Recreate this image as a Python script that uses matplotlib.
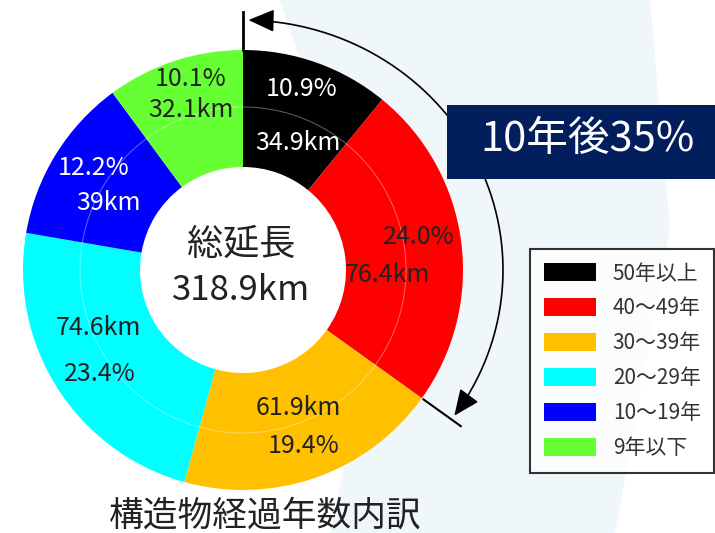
import numpy as np
import matplotlib.pyplot as plt
from matplotlib.patches import Patch, Polygon, Circle, Rectangle, FancyArrowPatch
from matplotlib.path import Path

plt.rcParams['font.family'] = ['Noto Sans CJK JP', 'DejaVu Sans']

# data
categories = ['50年以上', '40～49年', '30～39年', '20～29年', '10～19年', '9年以下']
shares = [10.9, 24.0, 19.4, 23.4, 12.2, 10.1]
lengths = ['34.9km', '76.4km', '61.9km', '74.6km', '39km', '32.1km']
colors = ['#000000', '#ff0000', '#ffc000', '#00ffff', '#0000ff', '#66ff33']
total_label = '318.9km'
center_title = '総延長'
callout = '10年後35%'
title = '構造物経過年数内訳'

# label placement (pixel coords, y down): (percent pos, km pos)
label_pos = [((302, 89), (298, 143)), ((419, 237), (387, 275)),
             ((304, 446), (298, 408)), ((100, 374), (98, 328)),
             ((94, 168), (109, 203)), ((191, 79), (191, 110))]
text_colors = ['white', '#222222', '#222222', '#222222', 'white', '#222222']

W, H = 715, 533
fig = plt.figure(figsize=(W / 100, H / 100), dpi=100)
ax = fig.add_axes([0, 0, 1, 1])


def Y(y):
    return H - y


cx, cy = 243, Y(270)
R, r_in = 220, 103

# pale background band
ax.add_patch(Polygon([(280, Y(0)), (650, Y(0)), (670, Y(230)), (615, Y(533)),
                      (330, Y(533)), (380, Y(300))],
                     closed=True, facecolor='#f0f7fa', edgecolor='none', zorder=0))
ax.add_patch(Circle((cx, cy), r_in, facecolor='white', edgecolor='none', zorder=0.5))

ax.pie(shares, colors=colors, startangle=90, counterclock=False, radius=R,
       center=(cx, cy), wedgeprops=dict(width=R - r_in, linewidth=0))
ax.add_patch(Circle((cx, cy), 163, fill=False, edgecolor='white', lw=0.8, alpha=0.35))

for i in range(len(shares)):
    (px, py), (kx, ky) = label_pos[i]
    ax.text(px, Y(py), f'{shares[i]:.1f}%', ha='center', va='center',
            fontsize=18, color=text_colors[i])
    ax.text(kx, Y(ky), lengths[i], ha='center', va='center',
            fontsize=18, color=text_colors[i])

ax.text(241, Y(245), center_title, ha='center', va='center', fontsize=26, color='#222222')
ax.text(241, Y(291), total_label, ha='center', va='center', fontsize=25, color='#222222')

# arc arrow covering the two oldest groups
end_deg = 360 * (shares[0] + shares[1]) / 100
th = np.radians(np.linspace(1.2, end_deg, 200))
verts = np.column_stack([cx + 260 * np.sin(th), cy + 250 * np.cos(th)])
arc = FancyArrowPatch(path=Path(verts), arrowstyle='<|-|>,head_length=0.8,head_width=0.35',
                      mutation_scale=20, color='black', lw=1.2, shrinkA=0, shrinkB=0)
ax.add_patch(arc)
ax.plot([cx, cx], [Y(12), Y(50)], color='black', lw=2)
a = np.radians(end_deg)
ax.plot([cx + 222 * np.sin(a), cx + 268 * np.sin(a)],
        [cy + 222 * np.cos(a), cy + 268 * np.cos(a)], color='black', lw=1.5)

# callout box
ax.add_patch(Rectangle((447, Y(179)), 268, 74, facecolor='#031e5c', edgecolor='none'))
ax.text(587, Y(140), callout, ha='center', va='center', fontsize=30, color='white')

ax.text(265, Y(516), title, ha='center', va='center', fontsize=25, color='#222222')

handles = [Patch(facecolor=c, edgecolor='none') for c in colors]
leg = ax.legend(handles, categories, loc='upper left',
                bbox_to_anchor=(530 / W, 1 - 249 / H), bbox_transform=fig.transFigure,
                fontsize=15, frameon=True, fancybox=False, edgecolor='black',
                handlelength=2.5, handleheight=0.96, handletextpad=0.82,
                labelspacing=0.62, borderpad=0.65, borderaxespad=0)
leg.get_frame().set_linewidth(1.5)
for t in leg.get_texts():
    t.set_color('#333333')

ax.set_xlim(0, W)
ax.set_ylim(0, H)
ax.set_aspect('auto')
ax.axis('off')

fig.savefig('out.png', dpi=100, facecolor='white')
